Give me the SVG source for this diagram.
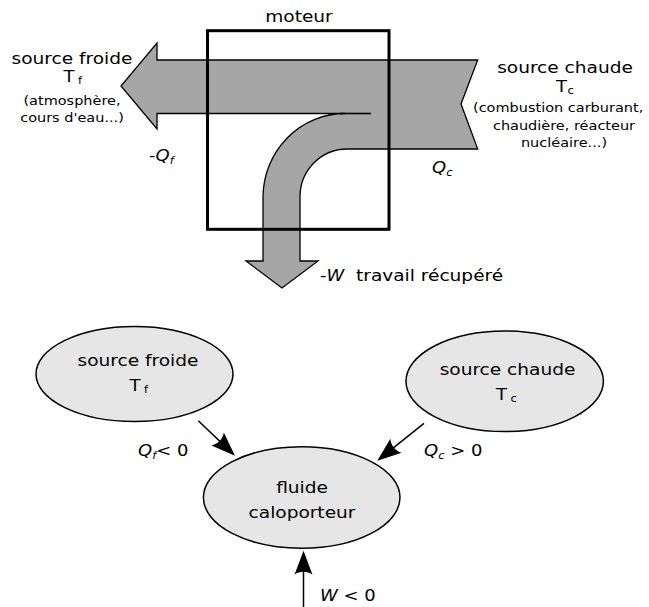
<svg xmlns="http://www.w3.org/2000/svg" width="649" height="607" viewBox="0 0 649 607">
  <defs>
    <style>
      text { font-family: "DejaVu Sans", "Liberation Sans", sans-serif; fill: #000; }
      .c { text-anchor: middle; }
      .big { font-size: 16px; }
      .small { font-size: 12.5px; }
      .sym { font-size: 15.5px; }
      .sub { font-size: 10px; }
      .it { font-style: italic; }
      .flow { fill: #a6a6a6; stroke: #000; stroke-width: 1.3; }
      .seam { fill: none; stroke: #000; stroke-width: 1.6; }
      .frame { fill: none; stroke: #000; stroke-width: 3; }
      .node ellipse { fill: #e6e6e6; stroke: #000; stroke-width: 1.5; }
      .link { fill: none; stroke: #000; stroke-width: 1.5; marker-end: url(#head); }
    </style>
    <marker id="head" markerUnits="userSpaceOnUse" viewBox="-24 -10 28 20" refX="0" refY="0"
            markerWidth="28" markerHeight="20" orient="auto">
      <path d="M 3 0 L -21 -9 C -17.2 -3.6 -17.2 3.6 -21 9 Z" fill="#000"/>
    </marker>
  </defs>

  <!-- Engine: heat flows through the machine -->
  <g id="engine">
    <path class="flow" d="M 477.7 60 L 157 60 L 157 43 L 121 86 L 157 129 L 157 113.5 L 345 113.5
             A 82 84 0 0 0 263 197 L 263 261 L 246 261 L 282 288 L 318 261 L 300 261 L 300 197
             A 47 48 0 0 1 347 149 L 477.7 149 L 461 104 Z"/>
    <path class="seam" d="M 340 113.5 L 371 113.5"/>
    <rect class="frame" x="207.5" y="30.7" width="181.5" height="198.6"/>
    <text class="big c" transform="translate(299 22) scale(1.16 1)">moteur</text>
  </g>

  <g id="cold-reservoir-label">
    <text class="big c" transform="translate(72 64) scale(1.16 1)">source froide</text>
    <text class="sym" transform="translate(63.5 82) scale(1.16 1)">T<tspan class="sub" dx="3" dy="2">f</tspan></text>
    <text class="small c" transform="translate(72 105) scale(1.16 1)">(atmosphère,</text>
    <text class="small c" transform="translate(72 122) scale(1.16 1)">cours d'eau...)</text>
    <text class="sym" transform="translate(149 161) scale(1.16 1)">-<tspan class="it">Q</tspan><tspan class="sub it" dy="3">f</tspan></text>
  </g>

  <g id="hot-reservoir-label">
    <text class="big c" transform="translate(565 73) scale(1.16 1)">source chaude</text>
    <text class="sym" transform="translate(556 92) scale(1.16 1)">T<tspan class="sub" dx="0.5" dy="2">c</tspan></text>
    <text class="small" transform="translate(473 112) scale(1.16 1)">(combustion carburant,</text>
    <text class="small c" transform="translate(564 130) scale(1.16 1)">chaudière, réacteur</text>
    <text class="small c" transform="translate(564 147) scale(1.16 1)">nucléaire...)</text>
    <text class="sym" transform="translate(432 173) scale(1.16 1)"><tspan class="it">Q</tspan><tspan class="sub it" dy="3">c</tspan></text>
  </g>

  <g id="work-label">
    <text class="sym" transform="translate(320 281) scale(1.16 1)">-<tspan class="it">W</tspan></text>
    <text class="big" transform="translate(356 281) scale(1.16 1)">travail récupéré</text>
  </g>

  <!-- Sign-convention graph -->
  <g id="cold-source" class="node">
    <ellipse cx="134.5" cy="374" rx="98.5" ry="47.5"/>
    <text class="big c" transform="translate(138 366) scale(1.16 1)">source froide</text>
    <text class="sym" transform="translate(129.5 391) scale(1.16 1)">T<tspan class="sub" dx="3" dy="2">f</tspan></text>
  </g>

  <g id="hot-source" class="node">
    <ellipse cx="504.7" cy="381.3" rx="98.7" ry="50.3"/>
    <text class="big c" transform="translate(507.5 375) scale(1.16 1)">source chaude</text>
    <text class="sym" transform="translate(496 400) scale(1.16 1)">T<tspan class="sub" dx="3" dy="2">c</tspan></text>
  </g>

  <g id="working-fluid" class="node">
    <ellipse cx="301.7" cy="497.5" rx="98.3" ry="50.8"/>
    <text class="big c" transform="translate(302 493) scale(1.16 1)">fluide</text>
    <text class="big c" transform="translate(302 518) scale(1.16 1)">caloporteur</text>
  </g>

  <g id="connectors">
    <path class="link" d="M 198.3 420.7 L 232.8 453.6"/>
    <path class="link" d="M 424 423.3 L 379.6 458.8"/>
    <path class="link" d="M 303.5 607 L 303.5 553.7"/>
    <text class="sym" transform="translate(138 456) scale(1.16 1)"><tspan class="it">Q</tspan><tspan class="sub it" dy="3">f</tspan><tspan dy="-3">&lt; 0</tspan></text>
    <text class="sym" transform="translate(424 456) scale(1.16 1)"><tspan class="it">Q</tspan><tspan class="sub it" dy="3">c</tspan><tspan dy="-3"> &gt; 0</tspan></text>
    <text class="sym" transform="translate(320 601) scale(1.16 1)"><tspan class="it">W</tspan> &lt; 0</text>
  </g>
</svg>
